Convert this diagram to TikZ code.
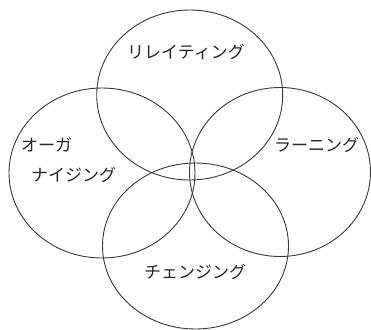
\documentclass[tikz,border=0pt]{standalone}
\usepackage{fontspec}
\newfontfamily\jpfont{Noto Sans CJK JP}
\tikzset{
  ring/.style={draw=black!78, line width=0.9pt},
  lbl/.style={font=\jpfont\fontsize{17}{18}\selectfont, text=black!85, inner sep=0pt}
}
\begin{document}
\begin{tikzpicture}[x=1pt,y=-1pt]
\useasboundingbox (0,0) rectangle (371,329);
\begin{scope}
\clip (0,0) rectangle (371,329);
\draw[ring] (189.7,95) ellipse [x radius=93, y radius=85];
\draw[ring] (102,173) ellipse [x radius=93, y radius=85];
\draw[ring] (280,172) ellipse [x radius=90.5, y radius=84.5];
\draw[ring] (195.5,246) ellipse [x radius=93, y radius=83];
\end{scope}
\node[lbl] (rel) at (186,52.5) {リレイティング};
\node[lbl, anchor=west] (org1) at (21,145) {オーガ};
\node[lbl, anchor=west] (org2) at (31,175) {ナイジング};
\node[lbl] (lrn) at (316.5,144.5) {ラーニング};
\node[lbl] (chg) at (195,272) {チェンジング};
\end{tikzpicture}
\end{document}
